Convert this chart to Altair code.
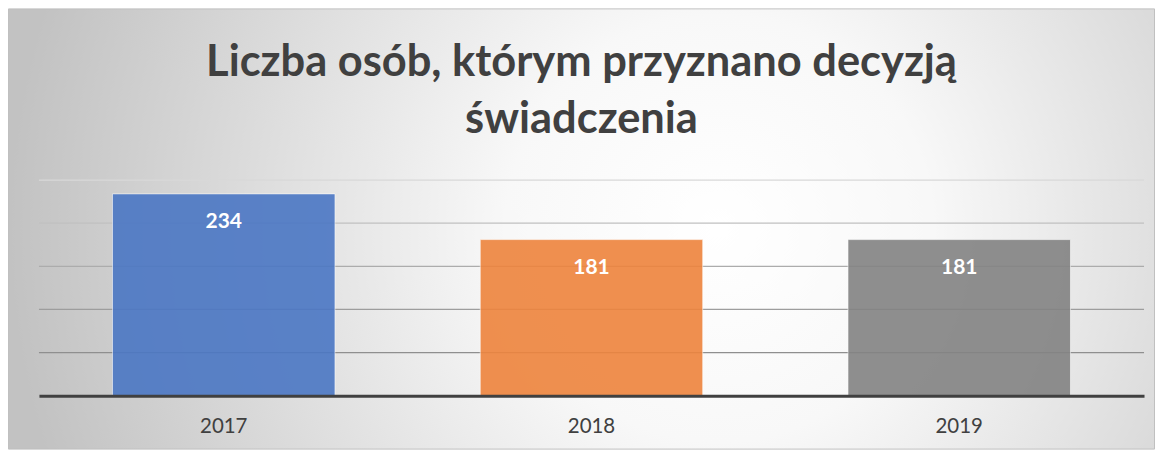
import altair as alt
import pandas as pd

years = ["2017", "2018", "2019"]
values = [234, 181, 181]
bar_colors = ["#4b77c4", "#ee843d", "#838383"]
grid_values = [50, 100, 150, 200, 250]
grid_colors = ["#8f8f8f", "#9d9d9d", "#acacac", "#c0c0c0", "#d8d8d8"]
title_lines = ["Liczba osób, którym przyznano decyzją", "świadczenia"]

W, H = 1107, 216
PL, PT, PR, PB = 31, 172, 11, 54

bars_df = pd.DataFrame({"rok": years, "liczba": values})
grid_df = pd.DataFrame({"v": grid_values})
bg_df = pd.DataFrame({"a": [0]})
title_df = pd.DataFrame({"t": ["\n".join(title_lines)]})

xenc = alt.X("rok:N", sort=years,
             scale=alt.Scale(paddingInner=0.395, paddingOuter=0.2),
             axis=alt.Axis(title=None, labelAngle=0, ticks=False,
                           domainColor="#404040", domainWidth=3,
                           labelFont="Lato", labelFontSize=20.5, labelColor="#404040",
                           labelPadding=21, zindex=2))
yscale = alt.Scale(domain=[0, 250], nice=False)

background = alt.Chart(bg_df).mark_rect(
    fill=alt.RadialGradient(
        gradient="radial",
        stops=[alt.GradientStop(color="#ffffff", offset=0),
               alt.GradientStop(color="#f8f8f8", offset=0.3),
               alt.GradientStop(color="#c2c2c2", offset=1)],
        x1=0.62, y1=0.5, r1=0, x2=0.62, y2=0.5, r2=0.62),
    stroke="#c0c0c0", strokeWidth=1,
).encode(x=alt.value(-PL + 0.5), x2=alt.value(W + PR - 0.5),
         y=alt.value(-PT + 0.5), y2=alt.value(H + PB - 0.5))

grid = alt.Chart(grid_df).mark_rule(strokeWidth=1.3).encode(
    y=alt.Y("v:Q", scale=yscale, axis=None),
    color=alt.Color("v:O", scale=alt.Scale(domain=grid_values, range=grid_colors), legend=None))

bars = alt.Chart(bars_df).mark_bar(opacity=0.9, stroke="#ffffff", strokeWidth=1,
                                   strokeOpacity=0.6).encode(
    x=xenc,
    y=alt.Y("liczba:Q", scale=yscale, axis=None),
    fill=alt.Fill("rok:N", scale=alt.Scale(domain=years, range=bar_colors), legend=None),
)

labels = alt.Chart(bars_df).mark_text(
    font="Lato", fontWeight="bold", fontSize=21, color="#ffffff",
    baseline="middle", dy=28,
).encode(x=alt.X("rok:N", sort=years), y=alt.Y("liczba:Q", scale=yscale), text="liczba:Q")

title = alt.Chart(title_df).mark_text(
    font="Lato", fontWeight="bold", fontSize=43.5, color="#404040",
    align="center", baseline="alphabetic", lineBreak="\n", lineHeight=57,
).encode(text="t:N", x=alt.value(582.5 - 8 - PL), y=alt.value(76 - 8 - PT))

chart = alt.layer(background, grid, bars, labels, title).properties(
    width=W, height=H,
    autosize=alt.AutoSizeParams(type="none"),
    padding={"left": PL, "top": PT, "right": PR, "bottom": PB},
    background="#ffffff",
).configure_view(stroke=None)

chart.save("out.html", embed_options={"renderer": "svg", "actions": False})
